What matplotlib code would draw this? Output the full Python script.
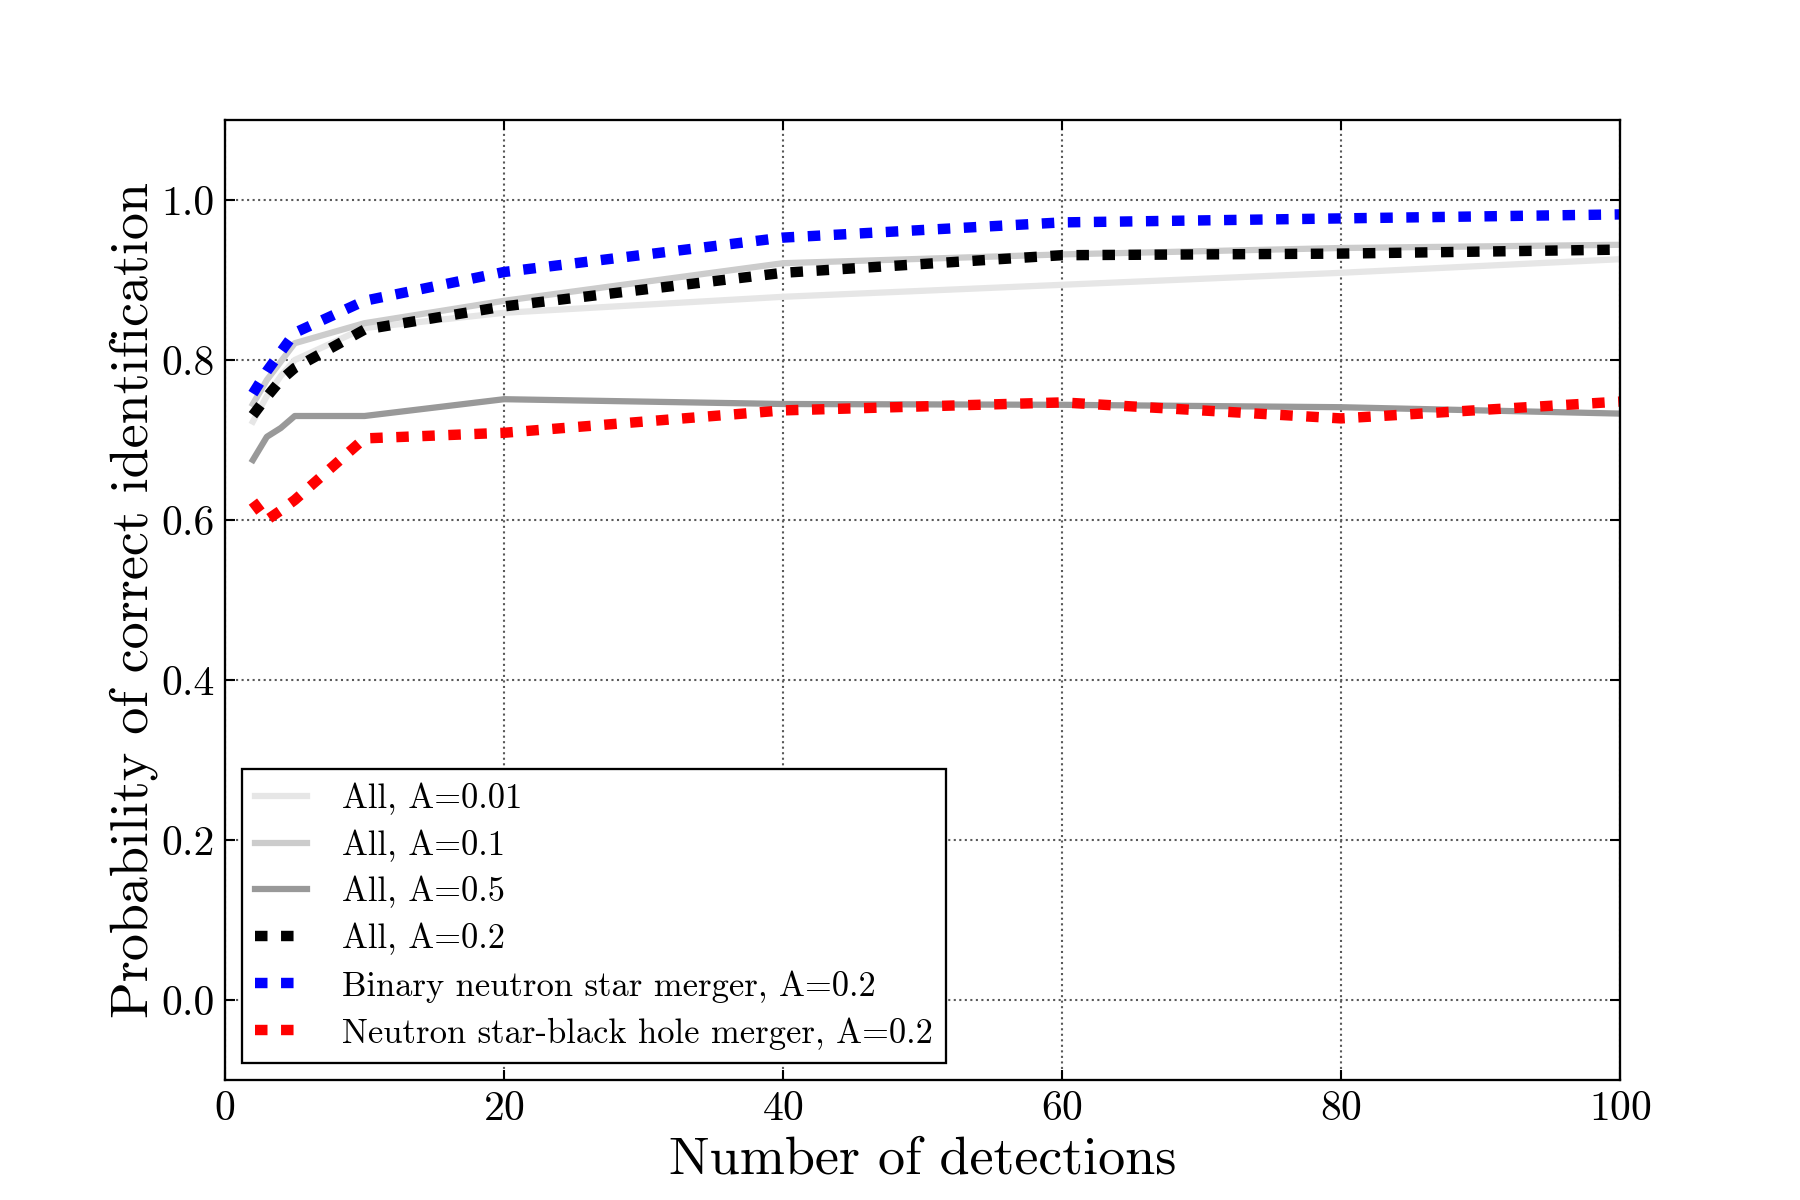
import matplotlib
matplotlib.use('Agg')
import matplotlib.pyplot as plt

plt.rcParams['font.family'] = 'serif'
plt.rcParams['font.serif'] = ['cmr10']
plt.rcParams['mathtext.fontset'] = 'cm'
plt.rcParams['axes.formatter.use_mathtext'] = True

# number of detections
detections = [2, 3, 4, 5, 10, 20, 40, 60, 80, 100]

# probability of correct identification
all_a001 = [0.723, 0.755, 0.78, 0.80, 0.84, 0.859, 0.879, 0.894, 0.909, 0.926]
all_a01 = [0.745, 0.775, 0.798, 0.821, 0.846, 0.874, 0.921, 0.932, 0.940, 0.944]
all_a05 = [0.675, 0.704, 0.715, 0.730, 0.730, 0.751, 0.745, 0.744, 0.741, 0.733]
all_a02 = [0.731, 0.754, 0.775, 0.790, 0.838, 0.867, 0.909, 0.931, 0.933, 0.938]
bns_a02 = [0.758, 0.786, 0.810, 0.834, 0.874, 0.910, 0.953, 0.972, 0.977, 0.982]
nsbh_a02 = [0.623, 0.600, 0.612, 0.625, 0.702, 0.709, 0.737, 0.747, 0.727, 0.748]

fig, ax = plt.subplots(figsize=(12, 8), dpi=150)

ax.plot(detections, all_a001, color='0.9', lw=3, label='All, A=0.01')
ax.plot(detections, all_a01, color='0.8', lw=3, label='All, A=0.1')
ax.plot(detections, all_a05, color='0.6', lw=3, label='All, A=0.5')
dots = dict(lw=5, dashes=(1.2, 1.3), dash_capstyle='butt')
ax.plot(detections, all_a02, color='k', label='All, A=0.2', **dots)
ax.plot(detections, bns_a02, color='b',
        label='Binary neutron star merger, A=0.2', **dots)
ax.plot(detections, nsbh_a02, color='r',
        label='Neutron star-black hole merger, A=0.2', **dots)

ax.set_xlim(0, 100)
ax.set_ylim(-0.1, 1.1)
ax.set_xticks([0, 20, 40, 60, 80, 100])
ax.set_yticks([0.0, 0.2, 0.4, 0.6, 0.8, 1.0])
ax.set_yticklabels(['0.0', '0.2', '0.4', '0.6', '0.8', '1.0'])
ax.tick_params(direction='in', top=True, right=True, length=5,
               width=1, labelsize=20, pad=5)
ax.grid(True, color='0.35', linestyle=':', lw=1)
for spine in ax.spines.values():
    spine.set_linewidth(1.1)

ax.set_xlabel('Number of detections', fontsize=26, labelpad=4)
ax.set_ylabel('Probability of correct identification', fontsize=26,
              labelpad=1.5)

leg = ax.legend(loc='lower left', fontsize=16.6, fancybox=False,
                edgecolor='k', framealpha=1, handlelength=1.5,
                handletextpad=1.0, borderpad=0.38, labelspacing=0.42)
leg.get_frame().set_linewidth(1.1)

fig.subplots_adjust(left=0.125, right=0.9, bottom=0.1, top=0.9)
fig.savefig('out.png', dpi=150)
